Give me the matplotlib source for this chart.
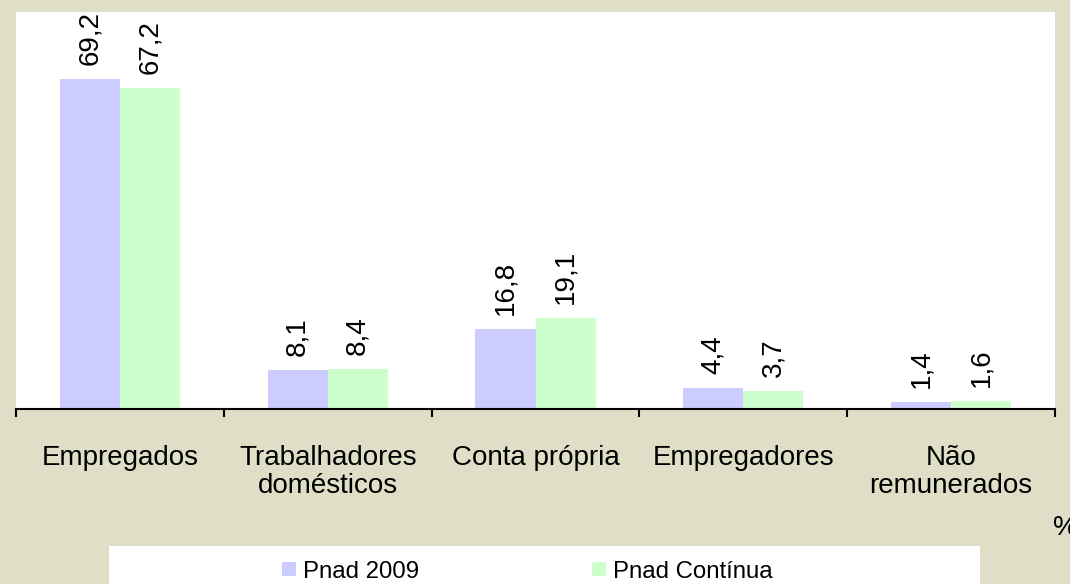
import numpy as np
import matplotlib
matplotlib.use('Agg')
import matplotlib.pyplot as plt
from matplotlib.patches import Rectangle

# Dados
categorias = ['Empregados', 'Trabalhadores\ndomésticos', 'Conta própria',
              'Empregadores', 'Não\nremunerados']
pnad_2009 = [69.2, 8.1, 16.8, 4.4, 1.4]
pnad_continua = [67.2, 8.4, 19.1, 3.7, 1.6]
series = ['Pnad 2009', 'Pnad Contínua']

# Estilo
cor_fundo = '#DFDFC7'
cor_azul = '#CCCCFF'
cor_verde = '#CCFFCC'
plt.rcParams['font.family'] = ['Liberation Sans', 'DejaVu Sans']

fig = plt.figure(figsize=(10.7, 5.84), dpi=100, facecolor=cor_fundo)
ax = fig.add_axes([16 / 1070, 1 - 409 / 584, 1039 / 1070, 397 / 584])
ax.set_facecolor('white')

x = np.arange(len(categorias))
largura = 0.289
b1 = ax.bar(x - largura / 2, pnad_2009, largura, color=cor_azul, label=series[0])
b2 = ax.bar(x + largura / 2, pnad_continua, largura, color=cor_verde, label=series[1])

# Rótulos das barras
for barras in (b1, b2):
    for r in barras:
        v = r.get_height()
        ax.annotate(f'{v:.1f}'.replace('.', ','),
                    (r.get_x() + r.get_width() / 2, v),
                    xytext=(0, 10), textcoords='offset points',
                    rotation=90, ha='center', va='bottom',
                    fontsize=20, annotation_clip=False)

ax.set_xlim(-0.5, len(categorias) - 0.5)
ax.set_ylim(0, 83.2)
ax.set_yticks([])
for lado in ('top', 'right', 'left'):
    ax.spines[lado].set_visible(False)
ax.spines['bottom'].set_linewidth(1.5)

ax.set_xticks(x)
ax.set_xticklabels(categorias, fontsize=20, linespacing=1.1)
ax.tick_params(axis='x', which='major', length=0, pad=26)
ax.set_xticks(np.arange(-0.5, len(categorias)), minor=True)
ax.tick_params(axis='x', which='minor', length=6, width=1.5, direction='out')

# Legenda
fig.patches.append(Rectangle((109 / 1070, 0), 871 / 1070, 38 / 584,
                             transform=fig.transFigure, facecolor='white',
                             edgecolor='none', zorder=0))
fig.legend(handles=[b1, b2], loc='center left',
           bbox_to_anchor=(282 / 1070, 0.021), ncol=2, frameon=False,
           fontsize=17.3, handlelength=0.58, handleheight=0.55,
           handletextpad=0.3, columnspacing=7.2, borderpad=0, borderaxespad=0)

fig.text(1053 / 1070, 1 - 535 / 584, '%', fontsize=20, va='baseline', ha='left')

fig.savefig('out.png', dpi=100, facecolor=cor_fundo)
